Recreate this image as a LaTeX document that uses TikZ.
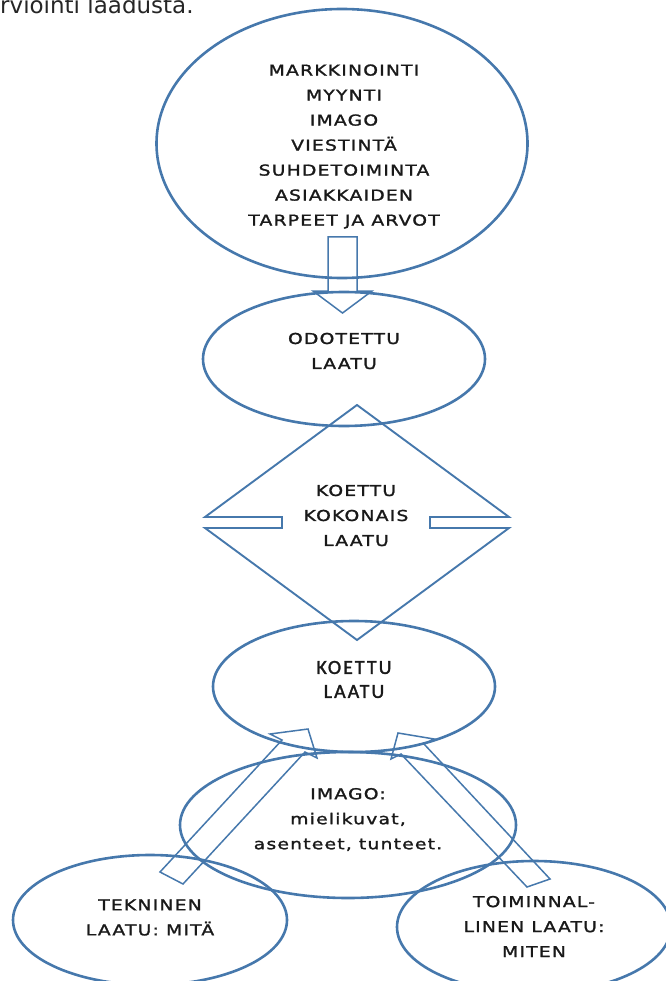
\documentclass[tikz,border=0pt]{standalone}
\usepackage{fontspec}
\setmainfont{DejaVu Sans}
\newfontfamily\spacedfont[FakeStretch=1.25,LetterSpace=8,FakeBold=1.6]{DejaVu Sans}
\newfontfamily\calibrifont[LetterSpace=10,FakeBold=1.6]{Carlito}
\usetikzlibrary{shapes.geometric}
\definecolor{wordblue}{RGB}{70,120,172}
\tikzset{oval/.style={draw=wordblue,shape=ellipse,line width=2.6pt,inner sep=0pt}}
\tikzset{caps/.style={font=\spacedfont\fontsize{15}{25}\selectfont,align=center,inner sep=0pt,text=black!90}}
\tikzset{hollow/.style={draw=wordblue,line width=1.5pt,line join=miter}}

\begin{document}
\begin{tikzpicture}[x=1pt,y=-1pt]
\useasboundingbox (0,0) rectangle (665,981);

\node [anchor=base west, inner sep=0pt, font=\fontsize{23}{27}\selectfont, text=black!85] (caption) at (0,14) {rviointi laadusta.};

\foreach \n/\x/\y/\w/\h in {big/342/143.5/371/269, odotettu/344/359/282/134, koettu/354/686.5/282/131, imago/348/825/336/146, tekninen/150/920/274/130, toiminnal/534/927/274/132}
  {\node [oval, minimum width=\w pt, minimum height=\h pt] (\n) at (\x,\y) {};}

% up-down arrow between the ovals
\draw [hollow, line width=1.9pt] (357,405) -- (509,517) -- (430,517) -- (430,528) -- (509,528) -- (357,640) -- (205,528) -- (282,528) -- (282,517) -- (205,517) -- cycle;

\draw [hollow] (328,237) -- (357,237) -- (357,291) -- (372,291) -- (342.5,313) -- (313,291) -- (328,291) -- cycle;
\draw [hollow] (160,872) -- (282,740) -- (270,734) -- (308,729) -- (317,758) -- (305,752) -- (183,884) -- cycle;
\draw [hollow] (550,879) -- (424,744) -- (434,739) -- (398,733) -- (391,759) -- (401,754) -- (527,887) -- cycle;

\node [caps] (bigtext) at (344,146.5) {MARKKINOINTI\\MYYNTI\\IMAGO\\VIESTINTÄ\\SUHDETOIMINTA\\ASIAKKAIDEN\\TARPEET JA ARVOT};
\node [caps] (odotettutext) at (344,351) {ODOTETTU\\LAATU};
\node [caps] (kokonaistext) at (356,515.5) {KOETTU\\KOKONAIS\\LAATU};
\node [caps, font=\calibrifont\fontsize{20}{24}\selectfont] (koettutext) at (354,679.5) {KOETTU\\LAATU};
\node [caps] (imagotext) at (348,819.5) {IMAGO:\\mielikuvat,\\asenteet, tunteet.};
\node [caps] (tekninentext) at (150,917.5) {TEKNINEN\\LAATU: MITÄ};
\node [caps] (toiminnaltext) at (534,926.5) {TOIMINNAL-\\LINEN LAATU:\\MITEN};

\end{tikzpicture}
\end{document}
